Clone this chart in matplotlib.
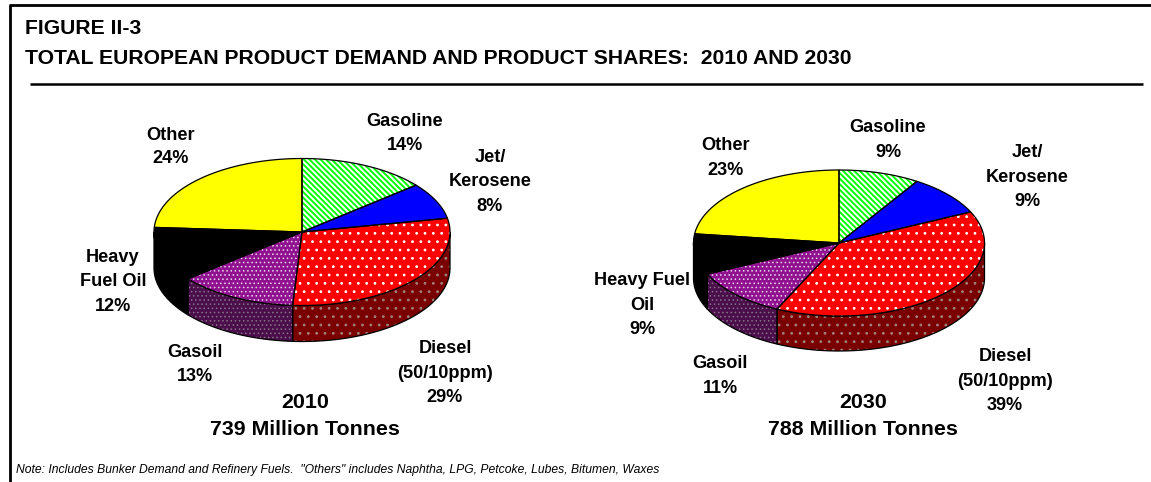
import numpy as np
import matplotlib
matplotlib.use("Agg")
import matplotlib.pyplot as plt
from matplotlib.patches import Polygon

plt.rcParams["font.family"] = ["Liberation Sans", "DejaVu Sans"]

products = ["Gasoline", "Jet/Kerosene", "Diesel", "Gasoil", "Heavy Fuel Oil", "Other"]
shares_2010 = [14, 8, 29, 13, 12, 24]
shares_2030 = [9, 9, 39, 11, 9, 23]

W, H = 1151, 482
fig = plt.figure(figsize=(W / 100, H / 100), dpi=100)
ax = fig.add_axes([0, 0, 1, 1])
ax.set_xlim(0, W)
ax.set_ylim(H, 0)
ax.axis("off")

# face, hatch, side, side hatch, hatch pattern, hatch width
styles = [
    ("white", "#00ff00", "white", "#00ff00", "\\" * 6, 1.4),
    ("#0000ff", None, "#000080", None, None, 0),
    ("#ff0000", "white", "#7a0000", "#a08080", "..", 0.8),
    ("#8f128f", "#f0d0f0", "#4a0f4a", "#8a708a", "....", 0.6),
    ("black", None, "black", None, None, 0),
    ("#ffff00", None, "#808000", None, None, 0),
]


def ell(cx, cy, rx, ry, a0, a1):
    # angles in degrees clockwise from 12 o'clock
    t = np.radians(np.linspace(a0, a1, max(int(abs(a1 - a0)) * 2, 2)))
    return np.column_stack([cx + rx * np.sin(t), cy - ry * np.cos(t)])


def draw_poly(pts, face, hatch_col, hatch, hatch_lw, z):
    if hatch:
        p = Polygon(pts, closed=True, facecolor=face, edgecolor=hatch_col,
                    hatch=hatch, lw=0, zorder=z)
        p.set_hatch_linewidth(hatch_lw)
        ax.add_patch(p)
    else:
        ax.add_patch(Polygon(pts, closed=True, facecolor=face, edgecolor="none", zorder=z))
    ax.add_patch(Polygon(pts, closed=True, fill=False, edgecolor="black", lw=0.9, zorder=z + 0.5))


def draw_pie(shares, cx, cy, rx, ry, depth):
    edges = np.cumsum([0] + shares) * 3.6
    # sides first
    for i in range(len(shares)):
        a0 = max(edges[i], 90)
        a1 = min(edges[i + 1], 270)
        if a1 <= a0:
            continue
        top = ell(cx, cy, rx, ry, a0, a1)
        bot = top[::-1] + [0, depth]
        st = styles[i]
        draw_poly(np.vstack([top, bot]), st[2], st[3], st[4], st[5], 2)
    # top faces
    for i in range(len(shares)):
        arc = ell(cx, cy, rx, ry, edges[i], edges[i + 1])
        st = styles[i]
        draw_poly(np.vstack([[cx, cy], arc]), st[0], st[1], st[4], st[5], 3)


draw_pie(shares_2010, 302, 232, 148, 73.5, 36)
draw_pie(shares_2030, 839, 243, 145.5, 73, 35)

# frame and rule
ax.plot([10, 10], [5, H], color="black", lw=2, solid_capstyle="butt")
ax.plot([9, W], [5, 5], color="black", lw=2, solid_capstyle="butt")
ax.plot([30, 1143], [84, 84], color="black", lw=1.8, solid_capstyle="butt")


def txt(x, y, s, size=13.1, ha="center", ls=1.6):
    ax.text(x, y, s, fontsize=size, ha=ha, va="center", fontweight="bold",
            linespacing=ls)


txt(25, 28, "FIGURE II-3", 15.2, ha="left")
txt(25, 58, "TOTAL EUROPEAN PRODUCT DEMAND AND PRODUCT SHARES:  2010 AND 2030", 15.2, ha="left")

txt(171, 147, "Other\n24%", ls=1.4)
txt(405, 133.5, "Gasoline\n14%")
txt(490, 182, "Jet/\nKerosene\n8%")
txt(113, 282, "Heavy\nFuel Oil\n12%")
txt(195, 364.5, "Gasoil\n13%")
txt(445, 373, "Diesel\n(50/10ppm)\n29%")
txt(305, 416, "2010\n739 Million Tonnes", 15.4, ls=1.55)

txt(726, 158, "Other\n23%")
txt(888, 140, "Gasoline\n9%")
txt(1027, 177, "Jet/\nKerosene\n9%")
txt(642, 305, "Heavy Fuel\nOil\n9%")
txt(720, 376, "Gasoil\n11%")
txt(1005, 381, "Diesel\n(50/10ppm)\n39%")
txt(863, 416, "2030\n788 Million Tonnes", 15.4, ls=1.55)

ax.text(16, 470, 'Note: Includes Bunker Demand and Refinery Fuels.  "Others" includes Naphtha, LPG, Petcoke, Lubes, Bitumen, Waxes',
        fontsize=8.7, style="italic", ha="left", va="center")

fig.savefig("out.png", dpi=100)
